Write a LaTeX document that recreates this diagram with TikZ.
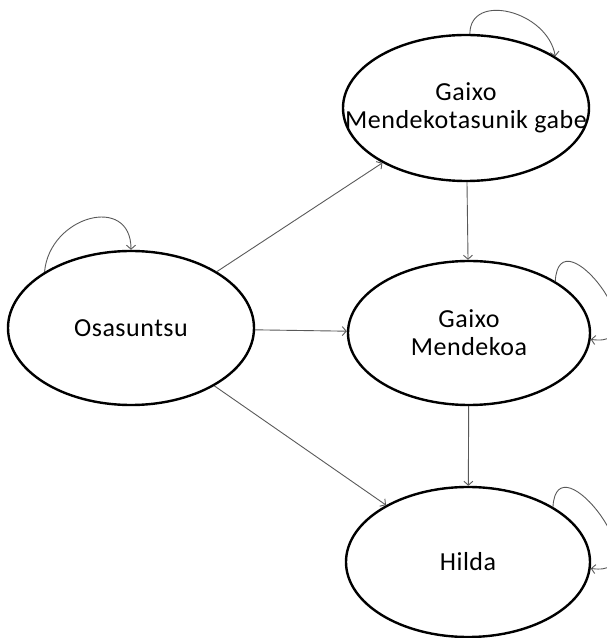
\documentclass[tikz,border=0pt]{standalone}
\usepackage{fontspec}
\setmainfont{Carlito}[LetterSpace=2]
\usetikzlibrary{shapes.geometric,arrows.meta}

\tikzset{
  state/.style={ellipse, draw=black, line width=2.4pt, inner sep=0pt},
  statetext/.style={align=center, font=\fontsize{26}{28}\selectfont},
  trans/.style={draw=black!65, line width=0.9pt, -{Straight Barb[length=4pt,width=9pt]}},
}

\begin{document}
\begin{tikzpicture}[x=1pt,y=1pt]
    \useasboundingbox (0,0) rectangle (607,638);
    % states
    \node[state, minimum width=246pt, minimum height=154pt,
      label={[statetext, name=osatxt]center:Osasuntsu}] (osa) at (131,310) {};
    \node[state, minimum width=246pt, minimum height=146pt,
      label={[statetext, name=gmgtxt]center:Gaixo\\Mendekotasunik gabe}] (gmg) at (466,530) {};
    \node[state, minimum width=242pt, minimum height=144pt,
      label={[statetext, name=gmtxt]center:Gaixo\\Mendekoa}] (gm) at (469,305) {};
    \node[state, minimum width=244pt, minimum height=150pt,
      label={[statetext, name=hiltxt]center:Hilda}] (hil) at (468,76) {};
    % transitions
    \draw[trans] (osa) -- (gmg);
    \draw[trans] (osa) -- (gm);
    \draw[trans] (osa) -- (hil);
    \draw[trans] (gmg) -- (gm);
    \draw[trans] (gm) -- (hil);
    % self loops
    \draw[trans] (osa.147) .. controls +(5,56) and +(0,56) .. (osa.90);
    \draw[trans] (gmg.87) .. controls +(0,42) and +(-8,46) .. (gmg.30);
    \draw[trans] (gm.31) .. controls +(4,70) and +(72,-10) .. (gm.-3);
    \draw[trans] (hil.33) .. controls +(4,70) and +(72,-10) .. (hil.-3);
\end{tikzpicture}
\end{document}
